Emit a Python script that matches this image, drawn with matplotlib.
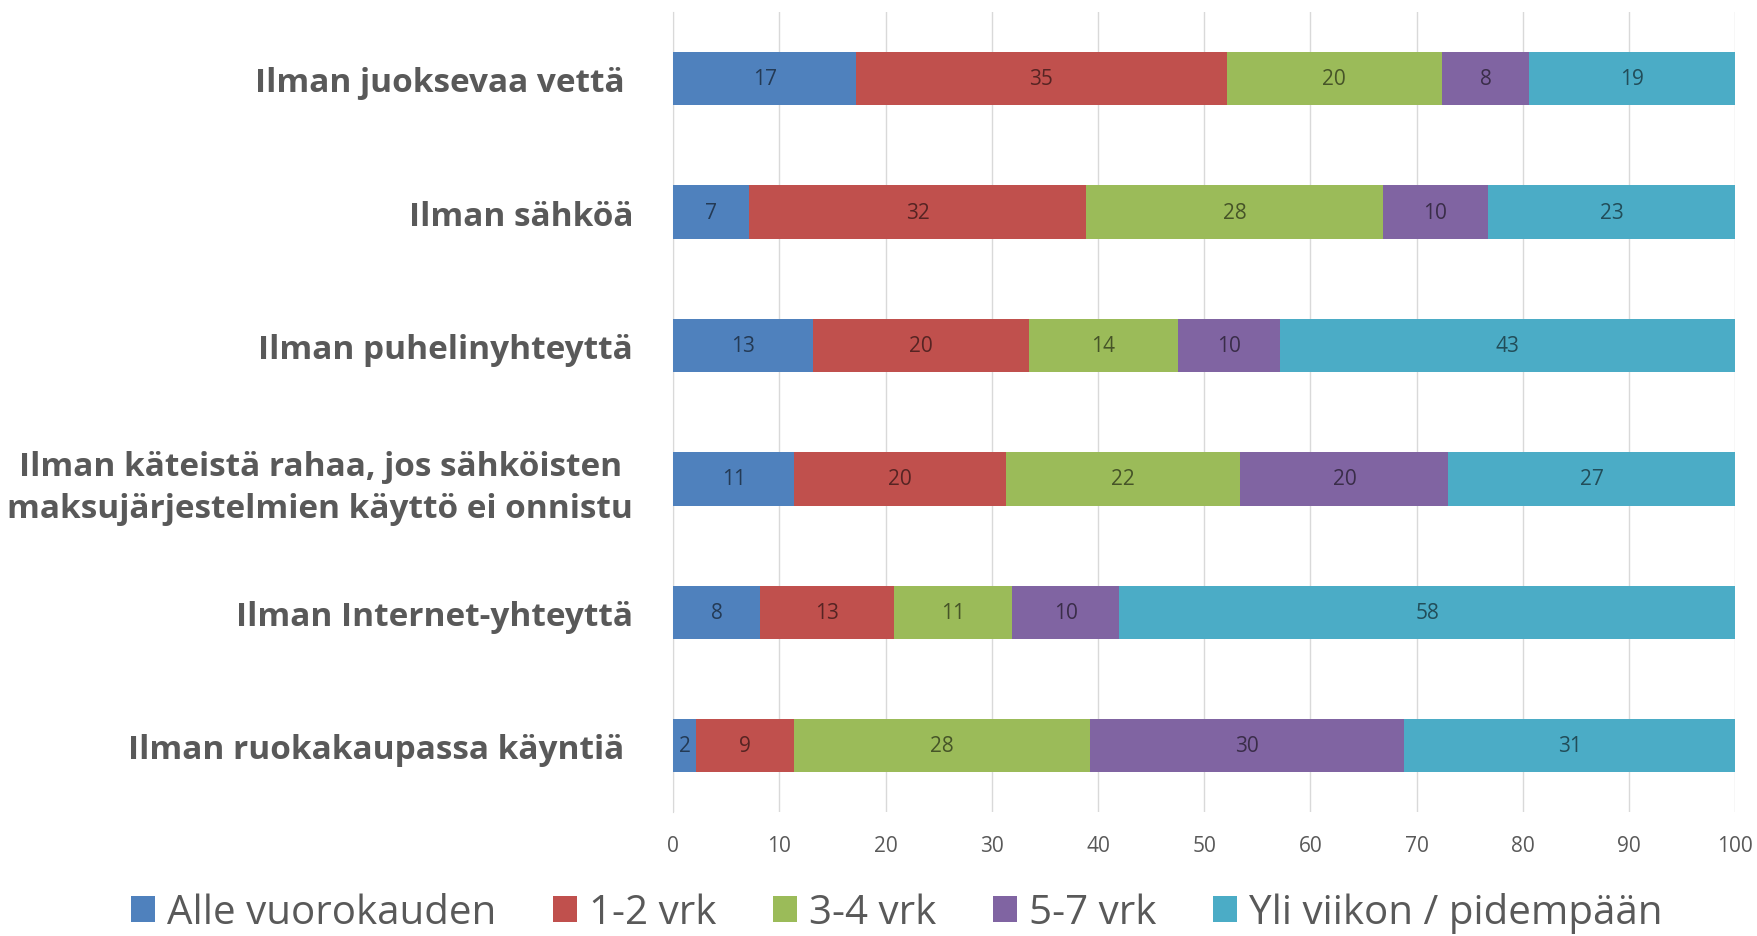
import matplotlib
matplotlib.use('Agg')
import matplotlib.pyplot as plt
from matplotlib import font_manager
import numpy as np

categories = [
    'Ilman juoksevaa vettä ',
    'Ilman sähköä',
    'Ilman puhelinyhteyttä',
    'Ilman käteistä rahaa, jos sähköisten\nmaksujärjestelmien käyttö ei onnistu',
    'Ilman Internet-yhteyttä',
    'Ilman ruokakaupassa käyntiä ',
]
series_names = ['Alle vuorokauden', '1-2 vrk', '3-4 vrk', '5-7 vrk', 'Yli viikon / pidempään']
# shares in percent (labels are the rounded values)
alle = [17.2, 7.1, 13.2, 11.4, 8.2, 2.1]
vrk_1_2 = [34.9, 31.8, 20.3, 19.9, 12.6, 9.3]
vrk_3_4 = [20.3, 27.9, 14.0, 22.1, 11.1, 27.8]
vrk_5_7 = [8.2, 9.9, 9.6, 19.6, 10.1, 29.6]
yli = [19.4, 23.3, 42.9, 27.0, 58.0, 31.2]
xticks = list(range(0, 101, 10))

colors = ['#4F81BD', '#C0504D', '#9BBB59', '#8064A2', '#4BACC6']


def pick_font(names):
    have = {f.name for f in font_manager.fontManager.ttflist}
    for n in names:
        if n in have:
            return n
    return 'DejaVu Sans'


narrow = pick_font(['Liberation Sans Narrow', 'DejaVu Sans Condensed', 'Open Sans'])

fig = plt.figure(figsize=(17.58, 9.37), dpi=100)
ax = fig.add_axes([0.383, 0.132, 0.604, 0.854])

data = [alle, vrk_1_2, vrk_3_4, vrk_5_7, yli]
y = np.arange(len(categories))
left = np.zeros(len(categories))
for vals, name, col in zip(data, series_names, colors):
    vals = np.array(vals, dtype=float)
    ax.barh(y, vals, left=left, height=0.4, color=col, label=name, zorder=3)
    # value labels: a dark shade of the segment colour
    dark = tuple(c * 0.45 for c in matplotlib.colors.to_rgb(col))
    for yi, l, v in zip(y, left, vals):
        ax.text(l + v / 2, yi, str(int(round(v))), ha='center', va='center',
                fontsize=15, color=dark, family=narrow, zorder=4)
    left += vals

ax.set_xlim(0, 100)
ax.set_ylim(len(categories) - 0.5, -0.5)
ax.set_xticks(xticks)
ax.set_xticklabels([str(t) for t in xticks], family=narrow, fontsize=15, color='#595959')
ax.set_yticks(y)
ax.set_yticklabels(categories, family=narrow, fontsize=24, fontweight='bold',
                   color='#595959', multialignment='center', linespacing=1.35)
ax.tick_params(axis='x', length=0, pad=16)
ax.tick_params(axis='y', length=0, pad=29)
ax.grid(axis='x', color='#D9D9D9', linewidth=1, zorder=0)
for s in ['top', 'right', 'bottom']:
    ax.spines[s].set_visible(False)
ax.spines['left'].set_color('#D9D9D9')
ax.spines['left'].set_zorder(1)

fig.legend(loc='center', bbox_to_anchor=(0.51, 0.025), ncol=5, frameon=False,
           prop={'family': narrow, 'size': 29}, labelcolor='#595959',
           handlelength=0.6, handleheight=0.6, handletextpad=0.3, columnspacing=1.4)

fig.savefig('out.png', dpi=100)
